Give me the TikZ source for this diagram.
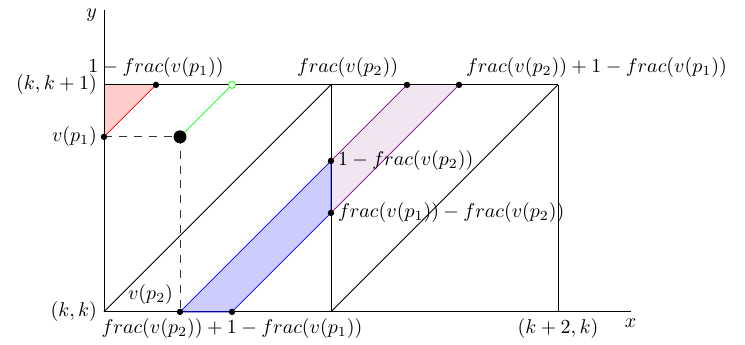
\documentclass[tikz,border=0pt]{standalone}
\begin{document}
\begin{tikzpicture}[x=4cm,y=4cm,
  every node/.style={font=\fontsize{10.3}{12.5}\selectfont},
  dot/.style={circle,fill=black,inner sep=0pt,minimum size=3.2pt},
  bigdot/.style={circle,fill=black,inner sep=0pt,minimum size=6.5pt},
  opendot/.style={circle,draw=green,fill=white,inner sep=0pt,minimum size=3.5pt},
  frame/.style={black,line width=0.45pt},
  dashline/.style={dashed,black!80,dash pattern=on 4pt off 3.5pt}]
\useasboundingbox (-0.458,-0.145) rectangle (2.824,1.374);
% coordinates
\coordinate (O) at (0,0);
\coordinate (X) at (2.32,0);
\coordinate (Y) at (0,1.33);
\coordinate (TL) at (0,1);
\coordinate (T1) at (1,1);
\coordinate (T2) at (2,1);
\coordinate (B1) at (1,0);
\coordinate (B2) at (2,0);
\coordinate (V1) at (0,0.771);
\coordinate (R) at (0.229,1);
\coordinate (P) at (0.335,0.771);
\coordinate (G) at (0.564,1);
\coordinate (Q) at (0.335,0);
\coordinate (S) at (0.564,0);
\coordinate (M1) at (1,0.665);
\coordinate (M2) at (1,0.436);
\coordinate (U1) at (1.335,1);
\coordinate (U2) at (1.564,1);
\coordinate (F2) at (1.073,1);
% fills
\fill[red!20] (TL) -- (V1) -- (R) -- cycle;
\fill[violet!10] (M1) -- (M2) -- (U2) -- (U1) -- cycle;
\fill[blue!20] (Q) -- (S) -- (M2) -- (M1) -- cycle;
\draw[violet] (M1) -- (U1);
\draw[violet] (M2) -- (U2);
\draw[red] (V1) -- (R);
% frame
\draw[frame] (O) -- (X);
\draw[frame] (O) -- (Y);
\draw[frame] (TL) -- (T2);
\draw[frame] (B1) -- (T1);
\draw[frame] (B2) -- (T2);
\draw[frame] (O) -- (T1);
\draw[frame] (B1) -- (T2);
% blue border
\draw[blue] (Q) -- (S) -- (M2) -- (M1) -- cycle;
% dashed and green
\draw[dashline] (V1) -- (P) -- (Q);
\draw[green] (P) -- (G);
% dots
\node[dot] (dV1) at (V1) {};
\node[dot] (dR) at (R) {};
\node[dot] (dQ) at (Q) {};
\node[dot] (dS) at (S) {};
\node[dot] (dM1) at (M1) {};
\node[dot] (dM2) at (M2) {};
\node[dot] (dU1) at (U1) {};
\node[dot] (dU2) at (U2) {};
\node[bigdot] (dP) at (P) {};
\node[opendot] (dG) at (G) {};
% labels
\node[below] (lx) at (X) {$x$};
\node[left,yshift=-2.5pt] (ly) at (Y) {$y$};
\node[left] (lkk1) at (TL) {$(k,k+1)$};
\node[left] (lvp1) at (V1) {$v(p_1)$};
\node[left] (lkk) at (O) {$(k,k)$};
\node[above] (lr) at (R) {$1-frac(v(p_1))$};
\node[above] (lf2) at (F2) {$frac(v(p_2))$};
\node[above right] (lu2) at (U2) {$frac(v(p_2))+1-frac(v(p_1))$};
\node[right] (lm1) at (M1) {$1-frac(v(p_2))$};
\node[right] (lm2) at (M2) {$frac(v(p_1))-frac(v(p_2))$};
\node[above left] (lvp2) at (Q) {$v(p_2)$};
\node[below] (ls) at (S) {$frac(v(p_2))+1-frac(v(p_1))$};
\node[below] (lk2) at (B2) {$(k+2,k)$};
\end{tikzpicture}
\end{document}
